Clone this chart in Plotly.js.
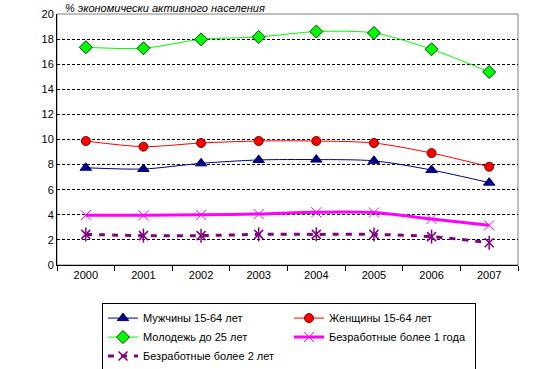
<!DOCTYPE html>
<html>
<head>
<meta charset="utf-8">
<script src="https://cdn.plot.ly/plotly-3.0.1.min.js"></script>
<style>html,body{margin:0;padding:0;background:#fff;}#chart{width:552px;height:369px;}</style>
</head>
<body>
<div id="chart"></div>
<script>
const years = ['2000','2001','2002','2003','2004','2005','2006','2007'];
const men = [7.75, 7.65, 8.1, 8.37, 8.4, 8.3, 7.57, 6.56];
const women = [9.88, 9.43, 9.72, 9.88, 9.88, 9.72, 8.92, 7.83];
const youth = [17.35, 17.27, 17.98, 18.17, 18.6, 18.49, 17.19, 15.38];
const unemp1 = [3.97, 3.96, 4.0, 4.06, 4.2, 4.18, 3.67, 3.16];
const unemp2 = [2.44, 2.34, 2.34, 2.44, 2.44, 2.44, 2.26, 1.78];
const names = ['Мужчины 15-64 лет', 'Женщины 15-64 лет', 'Молодежь до 25 лет', 'Безработные более 1 года', 'Безработные более 2 лет'];
const yTitle = '% экономически активного населения';

const font = {family: 'Liberation Sans, Arial, sans-serif', size: 11, color: '#000'};
const sm = 0.8;

const traces = [
  {x: years, y: men, name: names[0], type: 'scatter', mode: 'lines+markers',
   line: {color: '#000080', width: 1, shape: 'spline', smoothing: sm},
   marker: {symbol: 'triangle-up', size: 10, color: '#000080', line: {color: '#000080', width: 1}}},
  {x: years, y: women, name: names[1], type: 'scatter', mode: 'lines+markers',
   line: {color: '#FF0000', width: 1, shape: 'spline', smoothing: sm},
   marker: {symbol: 'circle', size: 9, color: '#FF0000', line: {color: '#800000', width: 1}}},
  {x: years, y: youth, name: names[2], type: 'scatter', mode: 'lines+markers',
   line: {color: '#00FF00', width: 1, shape: 'spline', smoothing: sm},
   marker: {symbol: 'diamond', size: 10, color: '#00FF00', line: {color: '#004000', width: 1}}},
  {x: years, y: unemp1, name: names[3], type: 'scatter', mode: 'lines+markers',
   line: {color: '#FF00FF', width: 3, shape: 'spline', smoothing: sm},
   marker: {symbol: 'x-thin-open', size: 10, color: '#FF00FF', line: {color: '#FF00FF', width: 1}}},
  {x: years, y: unemp2, name: names[4], type: 'scatter', mode: 'lines+markers',
   line: {color: '#800080', width: 3, dash: '6px,7px', shape: 'spline', smoothing: sm},
   marker: {symbol: 'x-thin-open', size: 9, color: '#800080', line: {color: '#800080', width: 1.5}}},
  {x: years, y: unemp2, name: names[4], type: 'scatter', mode: 'markers', showlegend: false,
   marker: {symbol: 'line-ns-open', size: 10, color: '#800080', line: {color: '#800080', width: 1.5}}}
];

const layout = {
  width: 552, height: 369,
  margin: {l: 57, r: 34, t: 14, b: 104},
  paper_bgcolor: '#fff', plot_bgcolor: '#fff',
  font: font,
  showlegend: true,
  legend: {
    orientation: 'h', xref: 'container', yref: 'container',
    x: 0.1848, xanchor: 'left', y: 0.18, yanchor: 'top',
    bgcolor: '#fff', bordercolor: '#000', borderwidth: 1,
    entrywidth: 141, entrywidthmode: 'pixels', font: font, traceorder: 'normal'
  },
  xaxis: {
    type: 'category', range: [-0.5, 7.5], tickson: 'boundaries',
    ticks: 'outside', ticklen: 5, tickcolor: '#000', tickwidth: 1,
    showline: true, linecolor: '#000', linewidth: 1, showgrid: false,
    tickfont: font, fixedrange: true
  },
  yaxis: {
    range: [0, 20], dtick: 2, ticks: '', showline: true, linecolor: '#000', linewidth: 1,
    showgrid: true, gridcolor: '#000', gridwidth: 1, griddash: '3px,2px',
    zeroline: false, tickfont: font, fixedrange: true
  },
  shapes: [
    {type: 'rect', xref: 'paper', yref: 'paper', x0: 0, x1: 1, y0: 0, y1: 1,
     line: {color: '#808080', width: 1}, layer: 'below'}
  ],
  annotations: [
    {text: '<i>' + yTitle + '</i>', xref: 'paper', yref: 'paper', x: 0.012, y: 1, xanchor: 'left', yanchor: 'bottom',
     yshift: -2, showarrow: false, font: font}
  ]
};

Plotly.newPlot('chart', traces, layout, {displayModeBar: false, staticPlot: true});
</script>
</body>
</html>
